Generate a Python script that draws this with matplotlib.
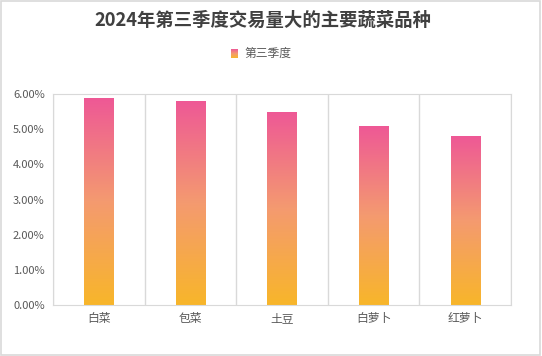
import numpy as np
import matplotlib.pyplot as plt
from matplotlib.colors import LinearSegmentedColormap
from matplotlib.patches import Rectangle
from matplotlib.ticker import FuncFormatter

plt.rcParams['font.family'] = ['Noto Sans CJK SC', 'DejaVu Sans']

# data
vegetables = ['白菜', '包菜', '土豆', '白萝卜', '红萝卜']
share = [5.89, 5.81, 5.50, 5.10, 4.81]
series_name = '第三季度'
title = '2024年第三季度交易量大的主要蔬菜品种'

grad = LinearSegmentedColormap.from_list('pinkgold', ['#F8B62A', '#F49A70', '#EE5896'])
grad_img = np.linspace(0, 1, 256).reshape(-1, 1)

fig = plt.figure(figsize=(5.42, 3.56), dpi=100)
fig.patch.set_facecolor('white')
# outer frame
fig.add_artist(Rectangle((0.002, 0.003), 0.994, 0.994, transform=fig.transFigure,
                         fill=False, edgecolor='#D9D9D9', linewidth=1.2))

ax = fig.add_axes([53 / 542, 1 - 305 / 356, 458 / 542, 211 / 356])
x = np.arange(len(vegetables))
bars = ax.bar(x, share, width=0.32, color='none')

# gradient fill for every bar
for b in bars:
    x0, y0 = b.get_x(), b.get_y()
    w, h = b.get_width(), b.get_height()
    im = ax.imshow(grad_img, cmap=grad, origin='lower', aspect='auto',
                   extent=[x0, x0 + w, y0, y0 + h], zorder=2)
    im.set_clip_path(b)

ax.set_xlim(-0.5, len(vegetables) - 0.5)
ax.set_ylim(0, 6)
ax.set_yticks(np.arange(0, 7, 1))
ax.yaxis.set_major_formatter(FuncFormatter(lambda v, p: f'{v:.2f}%'))
ax.set_xticks(x)
ax.set_xticklabels(vegetables)

# vertical separators between categories
for xv in np.arange(-0.5, len(vegetables), 1):
    ax.axvline(xv, color='#D9D9D9', linewidth=1, zorder=1)

for s in ax.spines.values():
    s.set_color('#D9D9D9')
ax.tick_params(length=0, colors='#595959', labelsize=8)
ax.tick_params(axis='y', pad=6)
ax.tick_params(axis='x', pad=5, labelsize=8.5)

fig.text(0.485, 1 - 20 / 356, title, ha='center', va='center',
         fontsize=13.2, fontweight='bold', color='#404040')

# legend
lax = fig.add_axes([231 / 542, 1 - 58 / 356, 7 / 542, 9 / 356])
lax.imshow(grad_img, cmap=grad, origin='lower', aspect='auto')
lax.axis('off')
fig.text(244 / 542, 1 - 53 / 356, series_name, ha='left', va='center',
         fontsize=8.5, color='#595959')

fig.savefig('out.png', dpi=100)
